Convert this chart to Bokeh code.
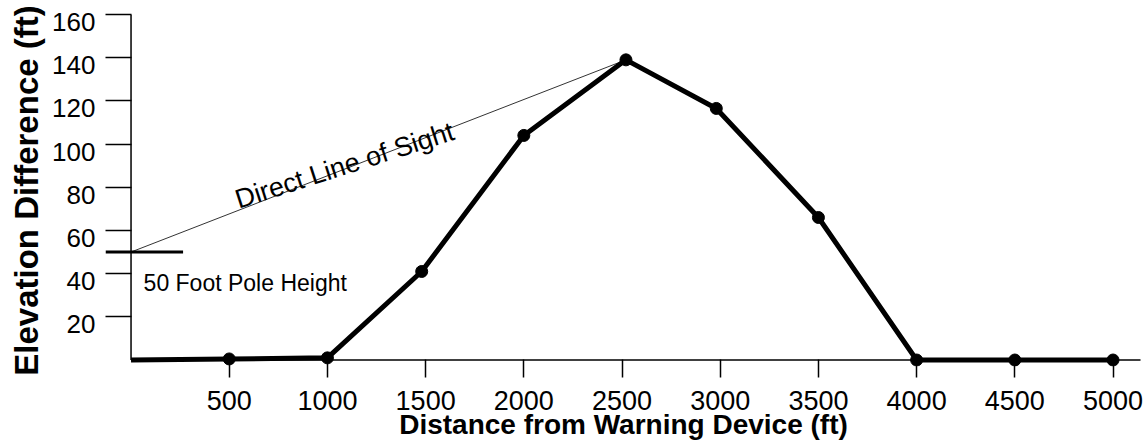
from bokeh.plotting import figure
from bokeh.models import Range1d, FixedTicker, LinearAxis
from bokeh.core.properties import value
from bokeh.embed import file_html
from bokeh.resources import INLINE

# ---- data ----
distance_ft = [0, 500, 1000, 1480, 2000, 2520, 2980, 3500, 4000, 4500, 5000]
elevation_ft = [0, 0.5, 1, 41, 104, 139, 116.5, 66, 0, 0, 0]
marker_distance = distance_ft[1:]
marker_elevation = elevation_ft[1:]

pole_height_ft = 50
pole_mark_x = [-130, 265]
sight_x = [0, 2520]
sight_y = [50, 139]

x_ticks = [500, 1000, 1500, 2000, 2500, 3000, 3500, 4000, 4500, 5000]
y_ticks = [20, 40, 60, 80, 100, 120, 140, 160]
x_axis_extent = [0, 5140]
y_axis_extent = [0, 160]

FONT = "Liberation Sans"
Y0, Y1 = -3, 160
LABEL_SHIFT = 3.5   # y tick labels sit just below their ticks

p = figure(width=1146, height=448, output_backend="svg", toolbar_location=None,
           x_range=Range1d(-130, 5145), y_range=Range1d(Y0, Y1),
           min_border_left=105, min_border_right=5, min_border_top=14, min_border_bottom=82)
p.extra_y_ranges = {"labels": Range1d(Y0 + LABEL_SHIFT, Y1 + LABEL_SHIFT)}
p.background_fill_color = "white"
p.border_fill_color = "white"
p.outline_line_color = None
p.xgrid.visible = False
p.ygrid.visible = False

# x axis
xa = p.xaxis[0]
xa.ticker = FixedTicker(ticks=x_ticks)
xa.axis_line_color = None
xa.major_tick_in = 7
xa.major_tick_out = 11
xa.major_tick_line_color = "black"
xa.major_tick_line_width = 1.5
xa.minor_tick_line_color = None
xa.major_label_text_font = FONT
xa.major_label_text_font_size = "27px"
xa.major_label_text_color = "black"
xa.major_label_standoff = 13
xa.axis_label = "Distance from Warning Device (ft)"
xa.axis_label_text_font = FONT
xa.axis_label_text_font_style = "bold"
xa.axis_label_text_font_size = "28px"
xa.axis_label_text_color = "black"
xa.axis_label_standoff = -4

# y axis: ticks only (drawn inward from the frame edge to the data origin)
ya = p.yaxis[0]
ya.ticker = FixedTicker(ticks=y_ticks)
ya.axis_line_color = None
ya.major_tick_in = 26
ya.major_tick_out = 0
ya.major_tick_line_color = "black"
ya.major_tick_line_width = 1.5
ya.minor_tick_line_color = None
ya.major_label_overrides = {t: "" for t in y_ticks}
ya.major_label_standoff = 0

# y axis: labels and title (range shifted so labels hang below the ticks)
yl = LinearAxis(y_range_name="labels", ticker=FixedTicker(ticks=y_ticks))
yl.axis_line_color = None
yl.major_tick_in = 0
yl.major_tick_out = 0
yl.major_tick_line_color = None
yl.minor_tick_line_color = None
yl.major_label_text_font = FONT
yl.major_label_text_font_size = "26px"
yl.major_label_text_color = "black"
yl.major_label_standoff = 10
yl.axis_label = "Elevation Difference (ft)"
yl.axis_label_text_font = FONT
yl.axis_label_text_font_style = "bold"
yl.axis_label_text_font_size = "33px"
yl.axis_label_text_color = "black"
yl.axis_label_standoff = 4
p.add_layout(yl, "left")

# axis lines at the data origin
p.line(x=x_axis_extent, y=[0, 0], line_color="black", line_width=1.5)
p.line(x=[0, 0], y=y_axis_extent, line_color="black", line_width=1.5)

# line of sight
p.line(x=sight_x, y=sight_y, line_color="#333333", line_width=1)

# pole height mark
p.line(x=pole_mark_x, y=[pole_height_ft, pole_height_ft], line_color="black", line_width=3)

# terrain profile
p.line(x=distance_ft, y=elevation_ft, line_color="black", line_width=5, line_join="round")
p.scatter(x=marker_distance, y=marker_elevation, size=12, fill_color="black", line_color="black")

# annotations
p.text(x=[64], y=[35.6], text=["50 Foot Pole Height"], text_font=value(FONT),
       text_font_size="23px", text_color="black", text_align="left", text_baseline="alphabetic")
p.text(x=[535], y=[74], text=["Direct Line of Sight"], text_font=value(FONT),
       text_font_size="27px", text_color="black", text_align="left", text_baseline="alphabetic",
       angle=0.31)

open("out.html", "w").write(file_html(p, INLINE))
